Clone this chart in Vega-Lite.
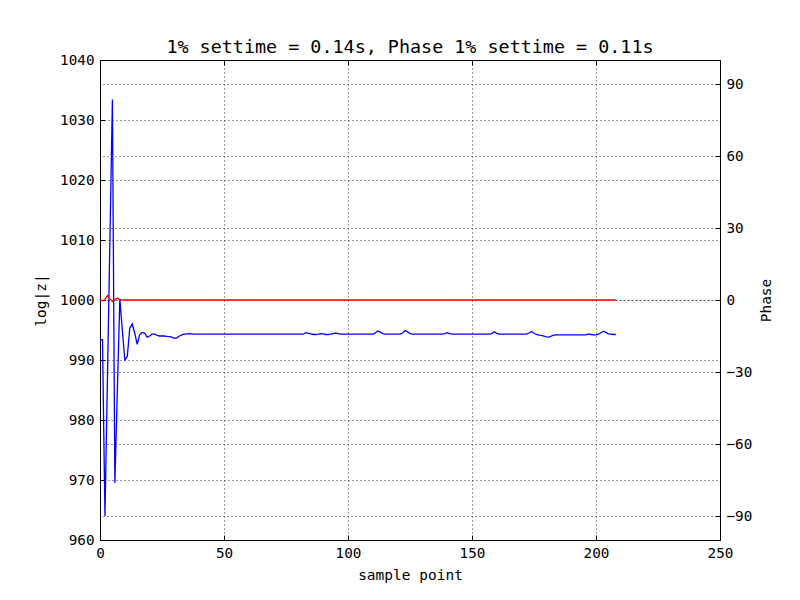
{
  "$schema": "https://vega.github.io/schema/vega-lite/v6.json",
  "width": 620,
  "height": 480,
  "autosize": {"type": "none"},
  "padding": {"left": 100, "top": 60, "right": 80, "bottom": 60},
  "background": "white",
  "title": {"text": "1% settime = 0.14s, Phase 1% settime = 0.11s", "font": "DejaVu Sans Mono", "fontSize": 18.4, "fontWeight": "normal", "color": "black", "offset": -3, "anchor": "middle", "frame": "group"},
  "config": {
    "view": {"stroke": "black", "strokeWidth": 1},
    "axis": {
      "labelFont": "DejaVu Sans Mono", "labelFontSize": 14.3, "labelColor": "black", "labelFlush": false, "format": "d",
      "titleFont": "DejaVu Sans Mono", "titleFontSize": 14.5, "titleFontWeight": "normal", "titleColor": "black",
      "domainColor": "black", "tickColor": "black", "tickSize": -5, "labelPadding": 11,
      "gridColor": "black", "gridDash": [1, 3], "gridWidth": 0.8, "gridOpacity": 1
    }
  },
  "data": {"values": [
    {"x":0,"z":993.4,"p":0},{"x":1,"z":993.4,"p":-0.3},{"x":2,"z":964,"p":0.2},{"x":3,"z":987,"p":1.8},{"x":4,"z":1010,"p":0.5},
    {"x":5,"z":1033.4,"p":-0.7},{"x":6,"z":969.5,"p":0.2},{"x":7,"z":985,"p":0.8},{"x":8,"z":1000.2,"p":0.1},{"x":9,"z":995,"p":0.05},
    {"x":10,"z":990,"p":0},{"x":11,"z":990.6,"p":0},{"x":12,"z":995.3,"p":0},{"x":13,"z":996,"p":0},{"x":14,"z":994.5,"p":0},
    {"x":15,"z":992.6,"p":0},{"x":16,"z":994.2,"p":0},{"x":17,"z":994.6,"p":0},{"x":18,"z":994.5,"p":0},{"x":19,"z":993.8,"p":0},
    {"x":20,"z":994.0,"p":0},{"x":21,"z":994.3,"p":0},{"x":22,"z":994.3,"p":0},{"x":23,"z":994.1,"p":0},{"x":24,"z":994.0,"p":0},
    {"x":25,"z":994.0,"p":0},{"x":26,"z":994.0,"p":0},{"x":27,"z":993.95,"p":0},{"x":28,"z":993.9,"p":0},{"x":29,"z":993.8,"p":0},
    {"x":30,"z":993.6,"p":0},{"x":31,"z":993.7,"p":0},{"x":32,"z":994.0,"p":0},{"x":33,"z":994.2,"p":0},{"x":34,"z":994.3,"p":0},
    {"x":35,"z":994.35,"p":0},{"x":36,"z":994.4,"p":0},{"x":37,"z":994.35,"p":0},{"x":38,"z":994.3,"p":0},{"x":39,"z":994.3,"p":0},
    {"x":40,"z":994.3,"p":0},{"x":41,"z":994.3,"p":0},{"x":42,"z":994.3,"p":0},{"x":43,"z":994.3,"p":0},{"x":44,"z":994.3,"p":0},
    {"x":45,"z":994.3,"p":0},{"x":46,"z":994.3,"p":0},{"x":47,"z":994.3,"p":0},{"x":48,"z":994.3,"p":0},{"x":49,"z":994.3,"p":0},
    {"x":50,"z":994.3,"p":0},{"x":51,"z":994.3,"p":0},{"x":52,"z":994.3,"p":0},{"x":53,"z":994.3,"p":0},{"x":54,"z":994.3,"p":0},
    {"x":55,"z":994.3,"p":0},{"x":56,"z":994.3,"p":0},{"x":57,"z":994.3,"p":0},{"x":58,"z":994.3,"p":0},{"x":59,"z":994.3,"p":0},
    {"x":60,"z":994.3,"p":0},{"x":61,"z":994.3,"p":0},{"x":62,"z":994.3,"p":0},{"x":63,"z":994.3,"p":0},{"x":64,"z":994.3,"p":0},
    {"x":65,"z":994.3,"p":0},{"x":66,"z":994.3,"p":0},{"x":67,"z":994.3,"p":0},{"x":68,"z":994.3,"p":0},{"x":69,"z":994.3,"p":0},
    {"x":70,"z":994.3,"p":0},{"x":71,"z":994.3,"p":0},{"x":72,"z":994.3,"p":0},{"x":73,"z":994.3,"p":0},{"x":74,"z":994.3,"p":0},
    {"x":75,"z":994.3,"p":0},{"x":76,"z":994.3,"p":0},{"x":77,"z":994.3,"p":0},{"x":78,"z":994.3,"p":0},{"x":79,"z":994.3,"p":0},
    {"x":80,"z":994.3,"p":0},{"x":81,"z":994.3,"p":0},{"x":82,"z":994.3,"p":0},{"x":83,"z":994.55,"p":0},{"x":84,"z":994.45,"p":0},
    {"x":85,"z":994.35,"p":0},{"x":86,"z":994.25,"p":0},{"x":87,"z":994.25,"p":0},{"x":88,"z":994.3,"p":0},{"x":89,"z":994.4,"p":0},
    {"x":90,"z":994.35,"p":0},{"x":91,"z":994.25,"p":0},{"x":92,"z":994.25,"p":0},{"x":93,"z":994.3,"p":0},{"x":94,"z":994.4,"p":0},
    {"x":95,"z":994.5,"p":0},{"x":96,"z":994.4,"p":0},{"x":97,"z":994.3,"p":0},{"x":98,"z":994.3,"p":0},{"x":99,"z":994.3,"p":0},
    {"x":100,"z":994.3,"p":0},{"x":101,"z":994.3,"p":0},{"x":102,"z":994.3,"p":0},{"x":103,"z":994.3,"p":0},{"x":104,"z":994.3,"p":0},
    {"x":105,"z":994.3,"p":0},{"x":106,"z":994.3,"p":0},{"x":107,"z":994.3,"p":0},{"x":108,"z":994.3,"p":0},{"x":109,"z":994.3,"p":0},
    {"x":110,"z":994.3,"p":0},{"x":111,"z":994.5,"p":0},{"x":112,"z":994.85,"p":0},{"x":113,"z":994.65,"p":0},{"x":114,"z":994.4,"p":0},
    {"x":115,"z":994.3,"p":0},{"x":116,"z":994.3,"p":0},{"x":117,"z":994.3,"p":0},{"x":118,"z":994.3,"p":0},{"x":119,"z":994.3,"p":0},
    {"x":120,"z":994.3,"p":0},{"x":121,"z":994.3,"p":0},{"x":122,"z":994.5,"p":0},{"x":123,"z":994.9,"p":0},{"x":124,"z":994.7,"p":0},
    {"x":125,"z":994.4,"p":0},{"x":126,"z":994.3,"p":0},{"x":127,"z":994.3,"p":0},{"x":128,"z":994.3,"p":0},{"x":129,"z":994.3,"p":0},
    {"x":130,"z":994.3,"p":0},{"x":131,"z":994.3,"p":0},{"x":132,"z":994.3,"p":0},{"x":133,"z":994.3,"p":0},{"x":134,"z":994.3,"p":0},
    {"x":135,"z":994.3,"p":0},{"x":136,"z":994.3,"p":0},{"x":137,"z":994.3,"p":0},{"x":138,"z":994.3,"p":0},{"x":139,"z":994.4,"p":0},
    {"x":140,"z":994.55,"p":0},{"x":141,"z":994.4,"p":0},{"x":142,"z":994.3,"p":0},{"x":143,"z":994.3,"p":0},{"x":144,"z":994.3,"p":0},
    {"x":145,"z":994.3,"p":0},{"x":146,"z":994.3,"p":0},{"x":147,"z":994.3,"p":0},{"x":148,"z":994.3,"p":0},{"x":149,"z":994.3,"p":0},
    {"x":150,"z":994.3,"p":0},{"x":151,"z":994.3,"p":0},{"x":152,"z":994.3,"p":0},{"x":153,"z":994.3,"p":0},{"x":154,"z":994.3,"p":0},
    {"x":155,"z":994.3,"p":0},{"x":156,"z":994.3,"p":0},{"x":157,"z":994.3,"p":0},{"x":158,"z":994.4,"p":0},{"x":159,"z":994.7,"p":0},
    {"x":160,"z":994.45,"p":0},{"x":161,"z":994.3,"p":0},{"x":162,"z":994.3,"p":0},{"x":163,"z":994.3,"p":0},{"x":164,"z":994.3,"p":0},
    {"x":165,"z":994.3,"p":0},{"x":166,"z":994.3,"p":0},{"x":167,"z":994.3,"p":0},{"x":168,"z":994.3,"p":0},{"x":169,"z":994.3,"p":0},
    {"x":170,"z":994.3,"p":0},{"x":171,"z":994.3,"p":0},{"x":172,"z":994.3,"p":0},{"x":173,"z":994.5,"p":0},{"x":174,"z":994.75,"p":0},
    {"x":175,"z":994.45,"p":0},{"x":176,"z":994.25,"p":0},{"x":177,"z":994.15,"p":0},{"x":178,"z":994.1,"p":0},{"x":179,"z":994.0,"p":0},
    {"x":180,"z":993.85,"p":0},{"x":181,"z":993.8,"p":0},{"x":182,"z":994.0,"p":0},{"x":183,"z":994.15,"p":0},{"x":184,"z":994.2,"p":0},
    {"x":185,"z":994.2,"p":0},{"x":186,"z":994.2,"p":0},{"x":187,"z":994.2,"p":0},{"x":188,"z":994.2,"p":0},{"x":189,"z":994.2,"p":0},
    {"x":190,"z":994.2,"p":0},{"x":191,"z":994.2,"p":0},{"x":192,"z":994.2,"p":0},{"x":193,"z":994.2,"p":0},{"x":194,"z":994.2,"p":0},
    {"x":195,"z":994.2,"p":0},{"x":196,"z":994.2,"p":0},{"x":197,"z":994.35,"p":0},{"x":198,"z":994.25,"p":0},{"x":199,"z":994.2,"p":0},
    {"x":200,"z":994.2,"p":0},{"x":201,"z":994.3,"p":0},{"x":202,"z":994.55,"p":0},{"x":203,"z":994.8,"p":0},{"x":204,"z":994.6,"p":0},
    {"x":205,"z":994.35,"p":0},{"x":206,"z":994.3,"p":0},{"x":207,"z":994.25,"p":0},{"x":208,"z":994.25,"p":0}
  ]},
  "layer": [
    {
      "mark": {"type": "line", "color": "#0000ff", "strokeWidth": 1.3, "clip": true},
      "encoding": {
        "x": {"field": "x", "type": "quantitative", "scale": {"domain": [0, 250], "nice": false, "zero": false},
              "axis": {"orient": "bottom", "values": [0, 50, 100, 150, 200, 250], "title": "sample point", "titlePadding": 8, "grid": true}},
        "y": {"field": "z", "type": "quantitative", "scale": {"domain": [960, 1040], "nice": false, "zero": false},
              "axis": {"orient": "left", "values": [960, 970, 980, 990, 1000, 1010, 1020, 1030, 1040], "title": "log|z|", "titlePadding": 11, "grid": true}}
      }
    },
    {
      "mark": {"type": "line", "color": "#ff0000", "strokeWidth": 1.3, "clip": true},
      "encoding": {
        "x": {"field": "x", "type": "quantitative", "scale": {"domain": [0, 250], "nice": false, "zero": false},
              "axis": {"orient": "top", "values": [0, 50, 100, 150, 200, 250], "labels": false, "title": null, "grid": false}},
        "y": {"field": "p", "type": "quantitative", "scale": {"domain": [-100, 100], "nice": false, "zero": false},
              "axis": {"orient": "right", "values": [-90, -60, -30, 0, 30, 60, 90], "title": "Phase", "titleAngle": 270, "titlePadding": 22, "grid": true}}
      }
    }
  ],
  "resolve": {"scale": {"y": "independent"}, "axis": {"x": "independent", "y": "independent"}}
}
